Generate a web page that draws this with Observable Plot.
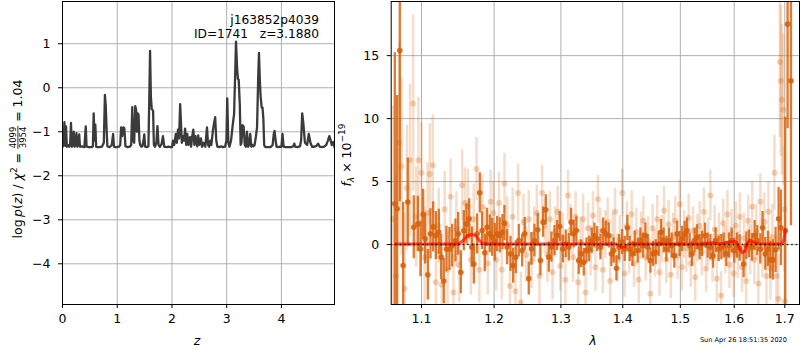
<!DOCTYPE html>
<html><head><meta charset="utf-8">
<script src="https://cdn.jsdelivr.net/npm/d3@7"></script>
<script src="https://cdn.jsdelivr.net/npm/@observablehq/plot@0.6"></script>
<style>
html,body{margin:0;padding:0;background:#fff;}
#fig{position:relative;width:800px;height:350px;overflow:hidden;background:#fff;}
#fig > svg{position:absolute;top:0;}
</style></head><body><div id="fig"></div>
<script>
// ---------- left panel: log p(z) ----------
const zTicks = [0, 1, 2, 3, 4];
const pTicks = [-4, -3, -2, -1, 0, 1];
const zGrid = [
  0.00,0.02,0.035,0.05,0.065,0.08,0.10,0.12,0.14,0.155,0.17,0.19,0.205,0.22,0.24,0.255,0.27,0.29,0.305,0.32,0.35,0.40,0.425,0.44,0.48,
  0.53,0.555,0.57,0.585,0.60,0.615,0.64,0.68,0.72,0.755,0.775,0.79,0.805,0.82,0.835,0.86,0.90,0.925,0.94,0.97,1.0,
  1.03,1.055,1.07,1.09,1.11,1.13,1.15,1.19,1.23,1.255,1.275,1.29,1.31,1.33,1.345,1.36,1.375,1.39,1.405,1.42,1.44,1.46,1.48,1.495,1.51,
  1.54,1.57,1.585,1.60,1.615,1.63,1.655,1.67,1.69,1.715,1.735,1.755,1.78,1.81,1.835,1.86,1.90,1.94,1.97,
  2.00,2.02,2.04,2.07,2.09,2.11,2.13,2.15,2.165,2.18,2.20,2.22,2.24,2.26,2.28,2.30,2.33,2.35,2.37,2.39,2.41,2.43,2.46,2.48,2.50,2.53,2.55,2.58,2.61,2.64,2.66,2.68,2.70,2.72,2.75,2.77,2.79,2.81,2.83,2.86,2.90,2.93,
  2.97,2.995,3.01,3.03,3.05,3.08,3.11,3.135,3.155,3.17,3.19,3.205,3.22,3.24,3.255,3.27,3.29,3.31,3.33,3.35,3.37,3.39,3.41,3.43,3.45,3.47,3.49,
  3.51,3.535,3.555,3.575,3.59,3.605,3.62,3.64,3.655,3.67,3.685,3.70,3.72,3.76,3.80,3.84,3.86,3.875,3.89,3.91,3.94,3.97,
  4.00,4.02,4.04,4.08,4.13,4.18,4.22,4.235,4.25,4.30,4.34,4.36,4.38,4.40,4.43,4.47,4.50,4.53,4.56,4.60,4.64,4.67,4.70,4.74,4.78,4.82,4.85,4.875,4.89,4.92,4.95,4.97
];
const logP = [
  -1.35,-1.28,-0.78,-1.32,-0.88,-1.34,-1.30,-1.34,-1.28,-0.80,-1.34,-1.30,-1.00,-1.34,-1.28,-1.03,-1.34,-1.30,-1.06,-1.34,-1.33,-1.35,-0.88,-1.34,-1.35,
  -1.35,-1.33,-0.58,-1.20,-0.84,-1.34,-1.35,-1.35,-1.34,-1.25,-0.16,-0.40,-0.92,-1.33,-1.34,-1.35,-1.30,-1.05,-1.34,-1.35,-1.35,
  -1.34,-1.30,-0.90,-1.10,-0.90,-0.92,-1.33,-1.35,-1.34,-1.30,-0.44,-1.20,-1.25,-0.42,-0.50,-1.00,-0.58,-0.62,-1.20,-1.30,-1.34,-1.33,-1.20,-1.06,-1.34,
  -1.35,-1.33,-0.30,0.84,-0.20,-0.48,-0.52,-1.30,-1.34,-1.25,-0.87,-1.30,-1.34,-1.28,-1.10,-1.34,-1.35,-1.34,-1.35,
  -1.35,-1.20,-1.30,-1.05,-1.25,-0.95,-1.15,-0.37,-0.80,-1.25,-1.10,-1.20,-0.93,-1.30,-1.05,-1.30,-1.12,-1.34,-1.10,-0.95,-1.30,-1.10,-1.33,-1.08,-1.30,-1.15,-1.34,-1.25,-1.34,-0.90,-1.30,-1.34,-1.20,-1.30,-0.95,-0.80,-0.67,-1.20,-1.34,-1.35,-1.33,-1.35,
  -1.34,-1.20,-0.24,-1.25,-1.34,-1.20,-0.85,-0.60,0.30,1.05,0.45,0.20,0.18,-0.40,-1.30,-1.25,-0.85,-0.88,-1.30,-1.34,-1.00,-1.34,-1.30,-1.05,-1.34,-1.30,-1.33,
  -1.30,-1.10,-0.90,0.20,0.79,0.20,-0.20,-0.45,-0.45,-0.70,-1.30,-1.34,-1.35,-1.35,-1.35,-1.30,-1.05,-0.98,-1.15,-1.34,-1.35,-1.34,
  -1.34,-1.05,-1.34,-1.35,-1.35,-1.35,-1.33,-1.27,-1.34,-1.35,-1.33,-1.20,-0.58,-0.80,-1.25,-1.30,-1.05,-1.25,-1.34,-1.34,-1.32,-1.27,-1.34,-1.35,-1.34,-1.30,-1.20,-1.10,-1.15,-1.30,-1.23,-1.35
];
const objName = "j163852p4039";
const objInfo = "ID=1741\u00a0\u00a0\u00a0z=3.1880";

// ---------- right panel: spectrum ----------
const lamTicks = [1.1, 1.2, 1.3, 1.4, 1.5, 1.6, 1.7];
const fTicks = [0, 5, 10, 15];
const darkLam = [
  1.0654,1.0684,1.0718,1.0761,1.0821,1.0899,1.0952,1.0987,1.1022,1.1048,
  1.1084,1.1119,1.1155,1.1191,1.1231,1.1262,1.1298,1.1334,1.1375,1.1412,
  1.1457,1.1494,1.1531,1.1572,1.1609,1.1647,1.1684,1.1712,1.1759,1.1796,
  1.1829,1.1867,1.1900,1.1938,1.1972,1.2010,1.2044,1.2082,1.2121,1.2150,
  1.2189,1.2238,1.2277,1.2316,1.2360,1.2410,1.2449,1.2509,1.2549,1.2594,
  1.2645,1.2685,1.2726,1.2767,1.2813,1.2854,1.2900,1.2941,1.2982,1.3029,
  1.3076,1.3123,1.3160,1.3202,1.3244,1.3281,1.3318,1.3361,1.3404,1.3447,
  1.3490,1.3533,1.3576,1.3631,1.3674,1.3718,1.3767,1.3811,1.3850,1.3894,
  1.3938,1.3989,1.4033,1.4078,1.4117,1.4163,1.4202,1.4253,1.4299,1.4345,
  1.4385,1.4425,1.4471,1.4517,1.4564,1.4616,1.4657,1.4704,1.4751,1.4798,
  1.4845,1.4893,1.4941,1.4988,1.5030,1.5078,1.5120,1.5168,1.5211,1.5260,
  1.5302,1.5351,1.5394,1.5450,1.5499,1.5549,1.5599,1.5648,1.5705,1.5755,
  1.5799,1.5850,1.5900,1.5951,1.6002,1.6053,1.6105,1.6182,1.6234,1.6286,
  1.6344,1.6397,1.6449,1.6508,1.6554,1.6607,1.6660,1.6707,1.6760,1.6813,
  1.6874,1.6921,1.7009,1.7057,1.7126
];
const darkF = [
  3.24,2.84,15.4,-1.67,3.37,1.38,1.64,-0.35,2.4,0.45,
  -2.4,0.85,1.4,0.72,1.0,-1.0,-2.9,-0.35,-0.35,-0.08,
  0.32,0.85,-2.2,1.1,1.64,2.04,-0.21,-1.54,0.85,4.11,
  1.11,-0.66,1.38,0.85,0.58,0.19,0.85,0.72,0.98,1.7,
  -0.21,-0.74,-1.67,-1.0,0.32,-0.48,0.85,-2.7,-0.35,0.32,
  1.17,-1.27,1.78,2.76,-1.0,-0.21,0.32,0.72,1.43,-0.35,
  0.05,-0.21,1.78,0.85,1.11,-1.27,-0.74,-1.4,-0.48,-0.35,
  0.32,0.72,0.45,-0.21,1.11,0.85,0.72,-0.74,-0.48,-1.88,
  -0.21,0.19,-0.35,1.33,-0.35,-0.74,0.05,-0.48,0.32,-0.08,
  0.72,-0.21,-1.27,-0.74,-0.61,0.05,0.98,0.32,-0.35,0.32,
  -0.08,-0.88,0.85,0.05,0.45,0.85,1.11,-0.08,-0.74,0.32,
  0.58,-0.21,0.05,0.72,-0.08,-0.21,-0.88,0.32,-0.35,-0.21,
  -0.08,-0.74,-0.08,0.32,-0.48,-0.08,-0.27,-1.54,-0.08,0.05,
  -0.21,0.72,0.32,-0.35,1.33,-0.74,-0.35,-1.22,-1.22,-0.42,
  2.04,1.33,1.1,17.5,13.0
];
const darkErr = [
  12,9,12,5,3.5,2.5,2.2,2.2,2.0,2.0,
  2.0,2.0,2.0,1.9,1.8,1.8,1.8,1.8,1.7,1.7,
  1.7,1.7,1.7,1.6,1.6,1.6,1.6,1.6,1.6,1.6,
  1.5,1.5,1.5,1.5,1.5,1.5,1.4,1.4,1.4,1.4,
  1.4,1.4,1.4,1.3,1.3,1.3,1.3,1.3,1.3,1.3,
  1.3,1.2,1.2,1.2,1.2,1.2,1.2,1.2,1.2,1.1,
  1.1,1.1,1.1,1.1,1.1,1.1,1.1,1.1,1.0,1.0,
  1.0,1.0,1.0,1.0,1.0,1.0,1.0,1.0,1.0,1.0,
  1.0,1.0,1.0,1.0,1.0,1.0,1.0,1.0,1.0,1.0,
  1.0,1.0,1.0,1.0,1.0,1.0,1.0,1.0,1.0,1.0,
  1.0,1.0,1.0,1.0,1.0,1.0,1.0,1.0,1.0,1.0,
  1.0,1.0,1.0,1.0,1.0,1.0,1.0,1.0,1.0,1.0,
  1.0,1.0,1.0,1.0,1.0,1.0,1.05,1.1,1.1,1.1,
  1.1,1.2,1.2,1.2,1.3,1.3,1.4,1.5,1.6,1.8,
  2.5,3.0,9.0,8.3,11.5
];
const lightLam = [
  1.063,1.067,1.071,1.074,1.078,1.081,1.085,1.089,1.093,1.096,
  1.100,1.104,1.108,1.111,1.115,1.119,1.123,1.127,1.131,1.135,
  1.139,1.143,1.147,1.151,1.155,1.159,1.163,1.167,1.171,1.175,
  1.179,1.183,1.187,1.191,1.195,1.199,1.203,1.207,1.211,1.215,
  1.219,1.223,1.227,1.231,1.235,1.239,1.243,1.247,1.251,1.255,
  1.259,1.263,1.267,1.271,1.275,1.279,1.283,1.287,1.291,1.295,
  1.299,1.303,1.307,1.311,1.315,1.319,1.323,1.327,1.331,1.335,
  1.339,1.343,1.347,1.351,1.355,1.359,1.363,1.367,1.371,1.375,
  1.379,1.383,1.387,1.391,1.395,1.399,1.403,1.407,1.411,1.415,
  1.419,1.423,1.427,1.431,1.435,1.439,1.443,1.447,1.451,1.455,
  1.459,1.463,1.467,1.471,1.475,1.479,1.483,1.487,1.491,1.495,
  1.499,1.503,1.507,1.511,1.515,1.519,1.523,1.527,1.531,1.535,
  1.539,1.543,1.547,1.551,1.555,1.559,1.563,1.567,1.571,1.575,
  1.579,1.583,1.587,1.591,1.595,1.599,1.603,1.607,1.611,1.615,
  1.619,1.623,1.627,1.631,1.635,1.639,1.643,1.647,1.651,1.655,
  1.659,1.663,1.667,1.671,1.675,1.679,1.683,1.687,1.690,1.692,
  1.694,1.697,1.699,1.700
];
const lightF = [
  2.0,-2.5,8.1,6.2,-3.5,4.5,6.7,11.2,2.2,6.7,
  5.7,-1.0,2.5,5.6,6.3,-3.0,1.5,-3.2,2.8,-2.0,
  3.8,-3.8,1.2,-1.6,4.7,3.3,3.0,-1.2,2.0,6.0,
  -2.0,3.0,0.5,-1.5,3.4,2.5,-1.2,3.3,-2.0,4.85,
  1.5,-3.3,2.2,-3.7,4.1,-4.6,1.8,-0.8,2.0,-1.3,
  0.8,2.5,-2.5,4.1,1.5,-0.8,2.0,-2.2,1.0,2.6,
  -1.7,0.5,-2.8,3.9,1.2,-1.0,2.2,-3.0,0.2,2.0,
  -3.8,1.3,-0.5,2.3,-1.8,3.6,1.0,-2.0,0.8,1.8,
  -2.9,0.6,2.6,-1.1,0.4,4.1,-2.3,1.5,-0.4,2.4,
  -1.5,1.0,-2.8,0.7,1.9,-1.0,0.3,-3.9,1.3,-0.7,
  2.0,-2.2,0.4,2.7,-1.2,1.6,-2.4,0.6,1.9,-0.9,
  3.2,-1.8,0.8,-0.3,2.1,-1.5,1.1,-2.6,0.5,1.5,
  -0.6,2.6,-1.9,0.2,3.9,-1.1,1.2,-2.7,0.6,-4.05,
  1.7,-0.4,2.4,-1.6,0.9,-2.3,1.5,-0.8,2.2,-1.8,
  0.5,-2.9,1.9,-0.4,3.0,-1.2,1.0,-3.1,3.4,-0.3,
  1.8,-2.5,2.6,-1.9,0.6,5.7,-2.5,-4.3,14.5,13.0,
  11.5,10.7,2.8,-4.5
];
const lightErr = [
  9,8,8,7,6,5,6,7,4,5,
  4,4,4,4,4,3.5,3,3,3,3,
  3,3,3,3,2.8,2.8,3,2.8,2.8,2.5,
  2.6,2.5,2.5,2.5,2.5,2.5,2.5,2.4,2.4,2.4,
  2.3,2.4,2.3,2.5,2.3,2.4,2.2,2.2,2.3,2.2,
  2.2,2.2,2.3,2.2,2.2,2.2,2.2,2.2,2.0,2.0,
  2.0,2.0,2.0,2.0,2.0,2.0,2.0,2.0,2.0,2.0,
  2.0,2.0,2.0,1.9,1.9,1.9,1.9,1.9,1.9,1.9,
  1.9,1.9,1.9,1.9,1.9,1.9,1.9,1.9,1.9,1.9,
  1.9,1.9,1.9,1.9,1.9,1.9,1.9,1.9,1.9,1.9,
  1.9,1.9,1.9,1.9,1.9,1.9,1.9,1.9,1.9,1.9,
  1.9,1.9,1.9,1.9,1.9,1.9,1.9,1.9,1.9,1.9,
  1.9,1.9,1.9,1.9,2.0,1.9,1.9,1.9,1.9,1.9,
  1.9,1.9,1.9,1.9,1.9,1.9,1.9,1.9,1.9,2.0,
  2.0,2.0,2.0,2.0,2.0,2.0,2.2,2.2,2.2,2.3,
  2.3,2.3,2.4,2.5,2.6,3,3.2,3.5,6,6,
  6,6,5,5
];
const modelLam = [1.066,1.150,1.156,1.162,1.168,1.173,1.178,1.183,1.190,1.390,1.397,1.403,1.410,1.540,1.550,1.560,1.570,1.580,1.590,1.600,1.605,1.610,1.615,1.620,1.625,1.630,1.635,1.640,1.648,1.655,1.694,1.698,1.701];
const modelF   = [0.05,0.05,0.3,0.7,0.8,0.75,0.4,0.1,0.05,0.05,-0.2,-0.2,0.05,0.05,0.1,0.15,0.05,0.1,0.2,0.25,0.15,-0.3,-0.65,-0.55,0.1,0.35,0.25,0.15,0.05,0.05,0.05,0.4,1.2];
const stamp = "Sun Apr 26 18:51:35 2020";

// ---------- build ----------
const ORANGE = "#d7620c";
const GRID = {stroke: "#b0b0b0", strokeOpacity: 1, strokeWidth: 1};
const FONT = '"DejaVu Sans"';
const STYLE = {fontFamily: FONT, fontSize: "12.5px", background: "white", color: "black", overflow: "visible"};
const intFmt = d => (d < 0 ? "\u2212" + (-d) : String(d));
const fig = document.getElementById("fig");

const pz = zGrid.map((z, i) => ({z, lp: logP[i]}));
const left = Plot.plot({
  width: 340, height: 350,
  marginLeft: 62, marginRight: 6, marginTop: 1, marginBottom: 46,
  style: STYLE,
  x: {domain: [0, 4.97]},
  y: {domain: [-4.925, 1.96]},
  marks: [
    Plot.gridX(zTicks, GRID),
    Plot.gridY(pTicks, GRID),
    Plot.line(pz, {x: "z", y: "lp", stroke: "#3b3b3b", strokeWidth: 2.3, clip: true}),
    Plot.axisX({ticks: zTicks, tickFormat: intFmt, tickSize: 4, tickPadding: 6, label: null}),
    Plot.axisY({ticks: pTicks, tickFormat: intFmt, tickSize: 4, tickPadding: 8, label: null}),
    Plot.frame({stroke: "black", strokeWidth: 1})
  ]
});
left.style.left = "0px";
fig.appendChild(left);

const dark = darkLam.map((lam, i) => ({lam, f: darkF[i], e: darkErr[i]}));
const light = lightLam.map((lam, i) => ({lam, f: lightF[i], e: lightErr[i]}));
const model = modelLam.map((lam, i) => ({lam, f: modelF[i]}));

const right = Plot.plot({
  width: 460, height: 350,
  marginLeft: 50.7, marginRight: 1, marginTop: 1, marginBottom: 46,
  style: STYLE,
  x: {type: "log", domain: [1.0608, 1.7302]},
  y: {domain: [-4.76, 19.3]},
  marks: [
    Plot.gridX(lamTicks, GRID),
    Plot.gridY(fTicks, GRID),
    Plot.ruleX(light, {x: "lam", y1: d => d.f - d.e, y2: d => d.f + d.e, stroke: ORANGE, strokeOpacity: 0.22, strokeWidth: 2.5, clip: true}),
    Plot.dot(light, {x: "lam", y: "f", r: 3, fill: ORANGE, fillOpacity: 0.28, stroke: null, clip: true}),
    Plot.ruleX(dark, {x: "lam", y1: d => d.f - d.e, y2: d => d.f + d.e, stroke: ORANGE, strokeOpacity: 0.85, strokeWidth: 2.3, clip: true}),
    Plot.dot(dark, {x: "lam", y: "f", r: 2.8, fill: ORANGE, fillOpacity: 0.9, stroke: null, clip: true}),
    Plot.line(model, {x: "lam", y: "f", stroke: "red", strokeOpacity: 0.7, strokeWidth: 3, clip: true}),
    Plot.ruleY([0], {stroke: "black", strokeOpacity: 0.8, strokeWidth: 1.5, strokeDasharray: "1.5,3"}),
    Plot.axisX({ticks: lamTicks, tickFormat: d => d.toFixed(1), tickSize: 4, tickPadding: 6, label: null}),
    Plot.axisY({ticks: fTicks, tickFormat: intFmt, tickSize: 4, tickPadding: 8, label: null}),
    Plot.frame({stroke: "black", strokeWidth: 1})
  ]
});
right.style.left = "340px";
fig.appendChild(right);

// ---------- text annotations ----------
const ctx = document.createElement("canvas").getContext("2d");
function tw(s, size, italic) { ctx.font = (italic ? "italic " : "") + size + "px " + FONT; return ctx.measureText(s).width; }
const L = d3.select(left), R = d3.select(right);
function txt(sel, x, y, s, anchor, size) {
  return sel.append("text").attr("x", x).attr("y", y).attr("text-anchor", anchor || "start")
    .attr("font-family", FONT).attr("font-size", size || 12.5).attr("fill", "black").text(s);
}
txt(L, 319, 23.5, objName, "end", 12.2);
txt(L, 319, 38, objInfo, "end", 12.2);
txt(L, 197, 345, "z", "middle").attr("font-style", "italic");
txt(R, 253, 345, "λ", "middle").attr("font-style", "italic");
txt(R, 447, 342, stamp, "end", 6.6);

// left y label: log p(z) / χ² = 4099/3954 = 1.04 (pieces placed along rotated baseline)
{
  const S = 12.5, s = 8.5;
  const g = L.append("g");
  const pieces = [
    ["log\u2009", S, false, 0], ["p", S, true, 0], ["(", S, false, 0], ["z", S, true, 0], [")\u00a0/\u00a0", S, false, 0],
    ["χ", S, true, 0], ["2", 9, false, -5.5], ["\u00a0=\u00a0", S, false, 0]
  ];
  let x = 0;
  for (const [str, size, it, dy] of pieces) {
    txt(g, x, dy, str, "start", size).attr("font-style", it ? "italic" : null);
    x += tw(str, size, it);
  }
  const fw = Math.max(tw("4099", s), tw("3954", s)) + 1.5;
  txt(g, x + fw / 2, -5.6, "4099", "middle", s);
  txt(g, x + fw / 2, 4.2, "3954", "middle", s);
  g.append("line").attr("x1", x).attr("x2", x + fw).attr("y1", -4.1).attr("y2", -4.1).attr("stroke", "black").attr("stroke-width", 0.8);
  x += fw;
  const tail = "\u00a0=\u00a01.04";
  txt(g, x, 0, tail, "start", S);
  x += tw(tail, S);
  g.attr("transform", `translate(22,${159 + x / 2}) rotate(-90)`);
}
// right y label: f_λ × 10^−19
{
  const S = 12.5;
  const g = R.append("g");
  const pieces = [["f", S, true, 0], ["λ", 9, true, 3], ["\u00a0×\u00a010", S, false, 0], ["\u221219", 9, false, -5.5]];
  let x = 0;
  for (const [str, size, it, dy] of pieces) {
    txt(g, x, dy, str, "start", size).attr("font-style", it ? "italic" : null);
    x += tw(str, size, it);
  }
  g.attr("transform", `translate(10.5,${155 + x / 2}) rotate(-90)`);
}
</script></body></html>
